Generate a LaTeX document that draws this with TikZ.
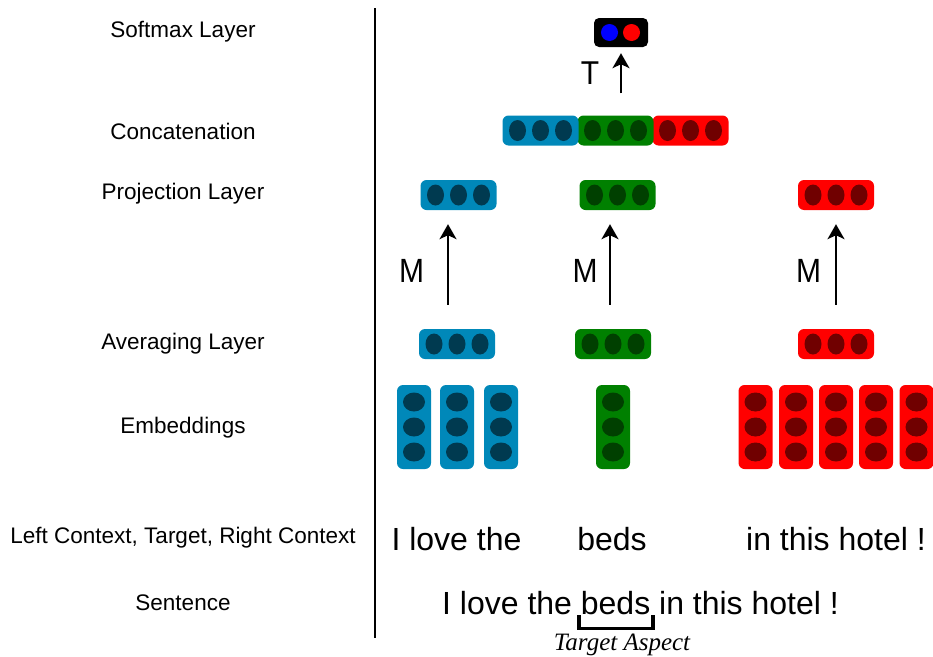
\documentclass[tikz,border=0pt]{standalone}
\usepackage{fontspec}
\usepackage{graphicx}
\setmainfont{Liberation Sans}
\newfontfamily\capfont{Liberation Serif}
\usetikzlibrary{arrows.meta}
\definecolor{cblue}{RGB}{0,136,185}
\definecolor{cblued}{RGB}{0,58,80}
\definecolor{cgreen}{RGB}{0,128,0}
\definecolor{cgreend}{RGB}{0,64,0}
\definecolor{cred}{RGB}{255,0,0}
\definecolor{credd}{RGB}{112,0,0}
\newcommand\hrowbox[5]{%
  \node[hbox,fill=#4] (#1) at (#2,#3) {};
  \foreach \d in {-23,0,23} \fill[#5] (#2+\d,#3) ellipse [x radius=8.5pt, y radius=10.5pt];}
\newcommand\vcolbox[5]{%
  \node[vbox,fill=#4] (#1) at (#2,#3) {};
  \foreach \d in {-25,0,25} \fill[#5] (#2,#3+\d) ellipse [x radius=11pt, y radius=9.5pt];}
\begin{document}
\begin{tikzpicture}[x=1pt,y=-1pt,
  hbox/.style={rounded corners=6pt, minimum width=76pt, minimum height=30pt, inner sep=0pt, draw=none},
  vbox/.style={rounded corners=6pt, minimum width=34pt, minimum height=84pt, inner sep=0pt, draw=none},
  lbl/.style={font=\fontsize{22.5}{27}\selectfont, inner sep=0pt},
  big/.style={font=\fontsize{32}{38}\selectfont, inner sep=0pt},
  mlbl/.style={font=\fontsize{30}{36}\selectfont, inner sep=0pt},
  arr/.style={line width=2pt, -{Stealth[length=15pt,width=17pt,inset=4pt]}}]
\useasboundingbox (0,0) rectangle (933,656);
% divider
\coordinate (ltop) at (375,8);
\coordinate (lbot) at (375,638);
\draw[line width=2pt] (ltop) -- (lbot);
% left labels
\node[lbl] (l1) at (183,32) {Softmax Layer};
\node[lbl] (l2) at (183,131) {Concatenation};
\node[lbl] (l3) at (183,194) {Projection Layer};
\node[lbl] (l4) at (183,344) {Averaging Layer};
\node[lbl] (l5) at (183,428) {Embeddings};
\node[lbl] (l6) at (183,538) {Left Context, Target, Right Context};
\node[lbl] (l7) at (183,603) {Sentence};
% softmax
\node[fill=black, rounded corners=5pt, minimum width=54pt, minimum height=29pt, inner sep=0pt] (soft) at (621,32.5) {};
\fill[blue] (609.5,32.5) circle [radius=8.5pt];
\fill[red] (631.5,32.5) circle [radius=8.5pt];
% concatenation
\hrowbox{concR}{690.5}{130.5}{cred}{credd}
\hrowbox{concG}{615.5}{130.5}{cgreen}{cgreend}
\hrowbox{concB}{540.5}{130.5}{cblue}{cblued}
% projection
\hrowbox{projB}{458.5}{195}{cblue}{cblued}
\hrowbox{projG}{617.5}{195}{cgreen}{cgreend}
\hrowbox{projR}{836}{195}{cred}{credd}
% averaging
\hrowbox{avgB}{457}{344}{cblue}{cblued}
\hrowbox{avgG}{613}{344}{cgreen}{cgreend}
\hrowbox{avgR}{836}{344}{cred}{credd}
% embeddings
\vcolbox{eB1}{414}{427}{cblue}{cblued}
\vcolbox{eB2}{457}{427}{cblue}{cblued}
\vcolbox{eB3}{501}{427}{cblue}{cblued}
\vcolbox{eG1}{613}{427}{cgreen}{cgreend}
\vcolbox{eR1}{755.5}{427}{cred}{credd}
\vcolbox{eR2}{796}{427}{cred}{credd}
\vcolbox{eR3}{836}{427}{cred}{credd}
\vcolbox{eR4}{876}{427}{cred}{credd}
\vcolbox{eR5}{916.5}{427}{cred}{credd}
% arrows
\draw[arr, shorten <=22pt, shorten >=6pt] (soft.south |- concG.north) -- (soft.south);
\node[mlbl] (T) at (590,73) {\scalebox{1}[1.1]{T}};
\draw[arr, shorten <=24pt, shorten >=14pt] (448,0 |- avgB.north) -- (448,0 |- projB.south);
\draw[arr, shorten <=24pt, shorten >=14pt] (610,0 |- avgG.north) -- (610,0 |- projG.south);
\draw[arr, shorten <=24pt, shorten >=14pt] (836,0 |- avgR.north) -- (836,0 |- projR.south);
\node[mlbl] (M1) at (411.5,270.5) {\scalebox{1}[1.12]{M}};
\node[mlbl] (M2) at (585,270.5) {\scalebox{1}[1.12]{M}};
\node[mlbl] (M3) at (808.5,270.5) {\scalebox{1}[1.12]{M}};
% words
\node[big] (w1) at (456.5,539) {I love the};
\node[big] (w2) at (612,539) {beds};
\node[big] (w3) at (836,539) {in this hotel !};
\node[big] (sent) at (640.5,603) {I love the beds in this hotel !};
% target bracket
\coordinate (bl) at (579,615);
\coordinate (br) at (653,615);
\draw[line width=3.5pt] (bl) -- ++(0,13.5) -| (br);
\node[font=\capfont\itshape\fontsize{25}{30}\selectfont, inner sep=0pt] (tgt) at (622,645) {Target Aspect};
\end{tikzpicture}
\end{document}
